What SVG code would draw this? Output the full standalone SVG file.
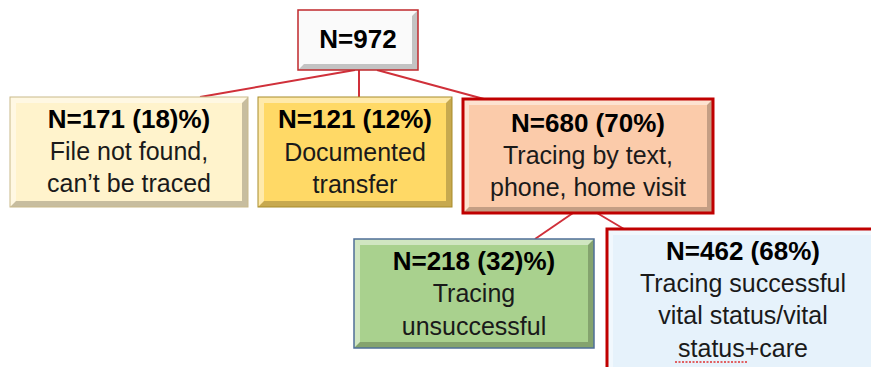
<svg xmlns="http://www.w3.org/2000/svg" width="871" height="367" viewBox="0 0 871 367">
<style>
.t{font-family:"Liberation Sans",Arial,sans-serif;font-size:25px;text-anchor:middle;fill:#1a1a1a}
.b{font-weight:bold;font-size:26px;fill:#000}
.hi{fill:#fff;fill-opacity:0.45}
.sh{fill:#000;fill-opacity:0.22}
.con line{stroke:#D0303A;stroke-width:2}
</style>
<rect width="871" height="367" fill="#fff"/>
<g id="connectors" class="con">
<line x1="355" y1="70" x2="200" y2="97"/>
<line x1="359" y1="70" x2="359" y2="97"/>
<line x1="377" y1="70" x2="484" y2="99"/>
<line x1="573" y1="213" x2="535" y2="239"/>
<line x1="597" y1="213" x2="624" y2="229"/>
</g>
<g id="root">
<rect x="298" y="10" width="120" height="60" fill="#fafafa"/>
<polygon class="sh" points="418,10 418,70 298,70 304,64 412,64 412,16"/>
<rect x="298" y="10" width="120" height="60" fill="none" stroke="#C0282D" stroke-width="1.5"/>
<text class="t b" x="358" y="48">N=972</text>
</g>
<g id="n171">
<rect x="10" y="97" width="238" height="110" fill="#FFF3CC"/>
<polygon class="hi" points="10,97 248,97 242,103 16,103 16,201 10,207"/>
<polygon class="sh" points="248,97 248,207 10,207 16,201 242,201 242,103"/>
<rect x="10" y="97" width="238" height="110" fill="none" stroke="#C9B98A" stroke-width="1"/>
<text class="t b" x="129" y="128">N=171 (18)%)</text>
<text class="t" x="129" y="160">File not found,</text>
<text class="t" x="129" y="192">can’t be traced</text>
</g>
<g id="n121">
<rect x="258" y="97" width="194" height="110" fill="#FFD966"/>
<polygon class="hi" points="258,97 452,97 446,103 264,103 264,201 258,207"/>
<polygon class="sh" points="452,97 452,207 258,207 264,201 446,201 446,103"/>
<rect x="258" y="97" width="194" height="110" fill="none" stroke="#A88B2A" stroke-width="1"/>
<text class="t b" x="355" y="128">N=121 (12%)</text>
<text class="t" x="355" y="161">Documented</text>
<text class="t" x="355" y="193">transfer</text>
</g>
<g id="n680">
<rect x="463" y="99" width="250" height="114" fill="#FBCBAA"/>
<polygon class="hi" points="463,99 713,99 707,105 469,105 469,207 463,213"/>
<polygon class="sh" points="713,99 713,213 463,213 469,207 707,207 707,105"/>
<rect x="463" y="99" width="250" height="114" fill="none" stroke="#C00000" stroke-width="3"/>
<text class="t b" x="588" y="132">N=680 (70%)</text>
<text class="t" x="588" y="164">Tracing by text,</text>
<text class="t" x="588" y="196">phone, home visit</text>
</g>
<g id="n218">
<rect x="354" y="239" width="240" height="109" fill="#A9D18E"/>
<polygon class="hi" points="354,239 594,239 588,245 360,245 360,342 354,348"/>
<polygon class="sh" points="594,239 594,348 354,348 360,342 588,342 588,245"/>
<rect x="354" y="239" width="240" height="109" fill="none" stroke="#4F6F98" stroke-width="1.5"/>
<text class="t b" x="474" y="270">N=218 (32)%)</text>
<text class="t" x="474" y="302">Tracing</text>
<text class="t" x="474" y="335">unsuccessful</text>
</g>
<g id="n462">
<rect x="607" y="229" width="272" height="145" fill="#E6F2FB"/>
<polygon class="hi" points="607,229 879,229 873,235 613,235 613,374 607,374"/>
<rect x="607" y="229" width="272" height="145" fill="none" stroke="#C00000" stroke-width="3"/>
<text class="t b" x="743" y="260">N=462 (68%)</text>
<text class="t" x="743" y="292">Tracing successful</text>
<text class="t" x="743" y="324">vital status/vital</text>
<text class="t" x="743" y="357">status+care</text>
<line x1="675" y1="362" x2="747" y2="362" stroke="#E03030" stroke-width="1.5" stroke-dasharray="2 1.5"/>
</g>
</svg>
